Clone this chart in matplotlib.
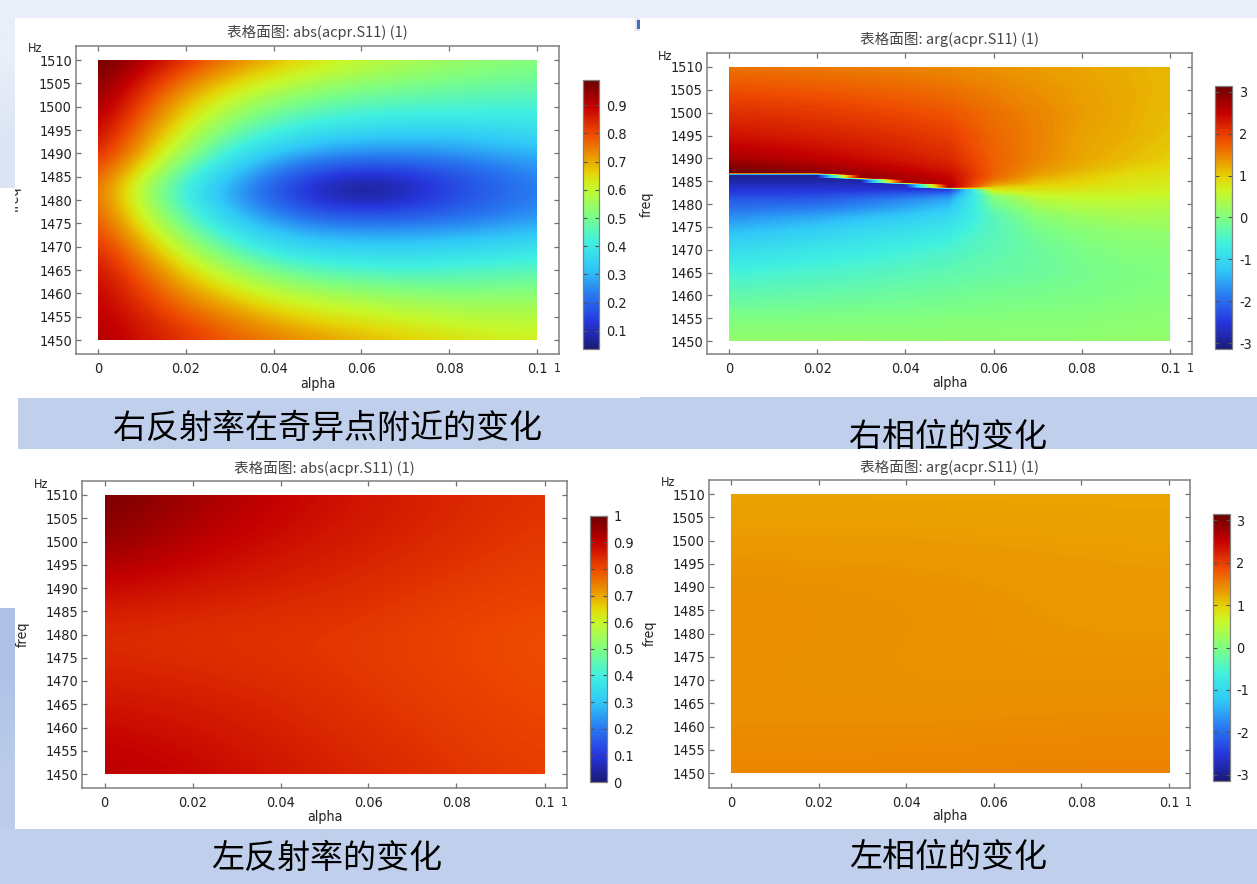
import numpy as np
import matplotlib
matplotlib.use("Agg")
import matplotlib.pyplot as plt
from matplotlib.colors import LinearSegmentedColormap, to_rgb
from matplotlib.patches import Rectangle

W, H = 1257, 884
CJK = ['Noto Sans CJK SC', 'DejaVu Sans']
plt.rcParams['font.stretch'] = 'condensed'

# ---------- data ----------
alpha_ticks = [0, 0.02, 0.04, 0.06, 0.08, 0.1]
alpha_tick_labels = ['0', '0.02', '0.04', '0.06', '0.08', '0.1']
freq_ticks = [1450, 1455, 1460, 1465, 1470, 1475, 1480, 1485, 1490, 1495, 1500, 1505, 1510]

alpha_fine = [0, .01, .02, .03, .04, .05, .06, .07, .08, .09, .10]
alpha_coarse = [0, .02, .04, .06, .08, .10]

freq_a = [1510, 1506, 1502, 1498, 1494, 1490, 1486, 1482, 1478, 1474, 1470, 1466, 1462, 1458, 1454, 1450]
abs_right = [
    [.99, .92, .83, .75, .69, .64, .60, .57, .55, .53, .52],
    [.97, .87, .76, .68, .62, .58, .55, .53, .51, .50, .49],
    [.95, .82, .70, .61, .55, .51, .48, .47, .46, .45, .45],
    [.92, .78, .65, .55, .48, .44, .42, .41, .41, .41, .41],
    [.89, .74, .60, .48, .41, .36, .34, .33, .33, .34, .36],
    [.85, .70, .54, .41, .32, .27, .25, .25, .26, .28, .30],
    [.80, .63, .46, .33, .23, .16, .13, .14, .17, .21, .25],
    [.77, .57, .40, .28, .18, .09, .04, .08, .15, .19, .23],
    [.78, .60, .44, .31, .22, .16, .14, .15, .18, .21, .25],
    [.81, .65, .50, .38, .30, .26, .25, .25, .26, .28, .30],
    [.84, .71, .57, .46, .38, .35, .34, .34, .35, .36, .38],
    [.87, .76, .64, .54, .47, .43, .42, .41, .42, .43, .44],
    [.89, .80, .70, .62, .56, .52, .50, .49, .49, .49, .50],
    [.90, .83, .75, .69, .63, .60, .58, .56, .55, .55, .55],
    [.91, .86, .80, .75, .70, .66, .64, .62, .60, .59, .59],
    [.92, .87, .83, .78, .75, .72, .69, .67, .65, .63, .62],
]

freq_b = [1510, 1505, 1500, 1495, 1490, 1488, 1486.9, 1486.45, 1485.85, 1485.4, 1484.8, 1484.35,
          1483.75, 1483.3, 1482.7, 1482, 1481, 1479, 1477, 1474, 1470, 1465, 1460, 1455, 1450]
arg_right = [
    [1.60, 1.58, 1.55, 1.52, 1.48, 1.44, 1.38, 1.32, 1.26, 1.20, 1.15],
    [1.85, 1.82, 1.78, 1.73, 1.68, 1.62, 1.50, 1.40, 1.30, 1.22, 1.15],
    [2.10, 2.07, 2.02, 1.96, 1.89, 1.80, 1.62, 1.48, 1.33, 1.22, 1.12],
    [2.35, 2.30, 2.24, 2.17, 2.09, 1.98, 1.68, 1.50, 1.28, 1.20, 1.08],
    [2.70, 2.62, 2.52, 2.42, 2.30, 2.15, 1.72, 1.48, 1.25, 1.12, 1.00],
    [2.95, 2.85, 2.73, 2.60, 2.45, 2.28, 1.72, 1.40, 1.18, 1.02, .90],
    [3.10, 3.02, 2.88, 2.72, 2.55, 2.38, 1.72, 1.32, 1.10, .95, .85],
    [-3.0, -3.0, -3.0, 2.80, 2.60, 2.42, 1.70, 1.28, 1.06, .90, .82],
    [-2.95, -2.95, -2.95, 2.85, 2.65, 2.46, 1.66, 1.20, 1.02, .87, .80],
    [-2.9, -2.9, -2.9, -2.9, 2.70, 2.50, 1.58, 1.14, .99, .85, .78],
    [-2.85, -2.85, -2.85, -2.85, 2.75, 2.55, 1.45, 1.07, .95, .83, .75],
    [-2.75, -2.75, -2.75, -2.75, -2.8, 2.60, 1.30, 1.00, .90, .80, .72],
    [-2.65, -2.65, -2.65, -2.65, -2.7, 2.70, 1.00, .92, .86, .77, .70],
    [-2.6, -2.6, -2.6, -2.6, -2.6, -2.6, .85, .85, .82, .75, .68],
    [-2.5, -2.5, -2.5, -2.45, -2.4, -2.3, .55, .72, .73, .70, .64],
    [-2.4, -2.4, -2.35, -2.25, -2.1, -1.9, .10, .62, .66, .66, .60],
    [-2.2, -2.2, -2.15, -2.0, -1.8, -1.55, -.05, .45, .55, .55, .50],
    [-1.95, -1.9, -1.85, -1.7, -1.5, -1.25, -.25, .22, .38, .42, .40],
    [-1.7, -1.6, -1.5, -1.35, -1.2, -1.0, -.4, .05, .20, .30, .30],
    [-1.35, -1.25, -1.15, -1.0, -.9, -.75, -.4, -.1, .05, .12, .15],
    [-.95, -.9, -.8, -.72, -.62, -.52, -.35, -.2, -.05, .03, .05],
    [-.6, -.55, -.5, -.45, -.38, -.32, -.25, -.2, -.1, -.03, .0],
    [-.3, -.28, -.25, -.22, -.18, -.15, -.1, -.08, -.05, .0, .02],
    [-.02, -.02, -.01, .0, .0, .02, .03, .04, .05, .08, .10],
    [.15, .15, .15, .15, .14, .13, .12, .12, .13, .14, .15],
]

freq_c = [1510, 1500, 1490, 1480, 1470, 1460, 1450]
abs_left = [
    [.99, .94, .90, .87, .85, .83],
    [.96, .91, .88, .86, .84, .82],
    [.89, .87, .855, .84, .82, .81],
    [.835, .83, .825, .82, .805, .795],
    [.86, .85, .84, .825, .81, .80],
    [.89, .875, .855, .835, .82, .805],
    [.915, .895, .87, .85, .83, .815],
]
arg_left = [
    [1.26, 1.26, 1.26, 1.26, 1.26, 1.26],
    [1.33, 1.33, 1.33, 1.32, 1.31, 1.30],
    [1.42, 1.40, 1.39, 1.37, 1.35, 1.34],
    [1.42, 1.40, 1.39, 1.37, 1.36, 1.36],
    [1.40, 1.39, 1.38, 1.38, 1.38, 1.39],
    [1.42, 1.42, 1.42, 1.43, 1.44, 1.44],
    [1.48, 1.48, 1.49, 1.50, 1.51, 1.51],
]

cbar_a_ticks = [.1, .2, .3, .4, .5, .6, .7, .8, .9]
cbar_a_labels = ['0.1', '0.2', '0.3', '0.4', '0.5', '0.6', '0.7', '0.8', '0.9']
cbar_c_ticks = [0, .1, .2, .3, .4, .5, .6, .7, .8, .9, 1]
cbar_c_labels = ['0', '0.1', '0.2', '0.3', '0.4', '0.5', '0.6', '0.7', '0.8', '0.9', '1']
cbar_arg_ticks = [-3, -2, -1, 0, 1, 2, 3]
cbar_arg_labels = ['-3', '-2', '-1', '0', '1', '2', '3']

title_abs = '表格面图: abs(acpr.S11) (1)'
title_arg = '表格面图: arg(acpr.S11) (1)'
captions = ['右反射率在奇异点附近的变化', '右相位的变化', '左反射率的变化', '左相位的变化']

# ---------- colours ----------
rainbow = LinearSegmentedColormap.from_list('comsol', [
    (0.00, '#1a1a78'), (0.10, '#2636dc'), (0.20, '#2878f0'), (0.30, '#30c8f8'),
    (0.40, '#40f0e0'), (0.50, '#80ff80'), (0.60, '#c8f828'), (0.65, '#e4d808'),
    (0.70, '#eaa600'), (0.80, '#ee4a00'), (0.90, '#c40000'), (1.00, '#6a0000')], N=512)
TEXT = '#222222'
FRAME = '#808080'

fig = plt.figure(figsize=(W / 100, H / 100), dpi=100, facecolor='white')


def fx(x):
    return x / W


def fy(y):
    return 1 - y / H


def band(x0, y0, x1, y1, color, z=-10):
    fig.add_artist(Rectangle((fx(x0), fy(y1)), (x1 - x0) / W, (y1 - y0) / H,
                             transform=fig.transFigure, fc=color, ec='none', zorder=z))


def shade(x0, y0, x1, y1, top, bottom, z=-6):
    g = fig.add_axes([fx(x0), fy(y1), (x1 - x0) / W, (y1 - y0) / H], zorder=z)
    g.imshow([[to_rgb(top)], [to_rgb(bottom)]], aspect='auto', interpolation='bilinear')
    g.axis('off')


# ---------- slide background ----------
band(0, 0, W, 18, '#E9EEF8')
shade(0, 18, 15, 188, '#E9EEF8', '#DCE4F4')
band(18, 398, 640, 449, '#C0CFEB')
band(640, 397, W, 449, '#C0CFEB')
band(0, 829, W, H, '#C0CFEB')

for txt, cx, cy in zip(captions, [327, 948, 327, 948], [428, 437, 858, 858]):
    fig.text(fx(cx), fy(cy), txt, ha='center', va='center', fontsize=23.8,
             family=CJK, color='black', zorder=-8)
band(0, 449, W, 829, 'white', z=-7)
shade(0, 608, 15, 829, '#AEC1E6', '#BCCCEA')
band(635, 18, 640, 31, '#E4E8EE', z=-5)
band(637, 20, 640, 29, '#3E6FC0', z=-4)


def panel(frame, x_data, y_data, title, hz, one, xlab_y, ylab_x, ylab_y):
    x0, x1, y0, y1 = frame
    ax = fig.add_axes([fx(x0), fy(y1), (x1 - x0) / W, (y1 - y0) / H])
    per_x = 0.1 / (x_data[1] - x_data[0])
    per_y = 60 / (y_data[1] - y_data[0])
    ax.set_xlim(-(x_data[0] - x0) * per_x, 0.1 + (x1 - x_data[1]) * per_x)
    ax.set_ylim(1450 - (y1 - y_data[1]) * per_y, 1510 + (y_data[0] - y0) * per_y)
    ax.set_xticks(alpha_ticks, alpha_tick_labels)
    ax.set_yticks(freq_ticks, [str(f) for f in freq_ticks])
    ax.tick_params(direction='in', top=True, right=True, length=3.5, width=0.9, color='#707070',
                   labelsize=10.4, labelcolor=TEXT, pad=3)
    ax.tick_params(axis='x', pad=6)
    for s in ax.spines.values():
        s.set_color(FRAME)
        s.set_linewidth(1.1)
    ax.set_title(title, family=CJK, fontsize=10.5, color='#444444', pad=6)
    ax.set_xlabel('alpha', fontsize=10.2, color=TEXT)
    ax.set_ylabel('freq', fontsize=10.2, color=TEXT)
    ax.xaxis.set_label_coords((x0 + x1) / 2 / W, fy(xlab_y), transform=fig.transFigure)
    ax.xaxis.label.set_va('center')
    ax.yaxis.set_label_coords(fx(ylab_x), fy(ylab_y), transform=fig.transFigure)
    ax.yaxis.label.set_va('center')
    fig.text(fx(hz[0]), fy(hz[1]), 'Hz', fontsize=9, color=TEXT, ha='center', va='center')
    fig.text(fx(one[0]), fy(one[1]), '1', fontsize=8.5, color=TEXT, ha='center', va='center')
    return ax


def smooth_field(ax, values, alphas, freqs, vmin, vmax):
    da, df = alphas[1] - alphas[0], freqs[0] - freqs[1]
    im = ax.imshow(values, cmap=rainbow, vmin=vmin, vmax=vmax, aspect='auto',
                   interpolation='bicubic', interpolation_stage='data', origin='upper',
                   extent=[alphas[0] - da / 2, alphas[-1] + da / 2,
                           freqs[-1] - df / 2, freqs[0] + df / 2])
    im.set_clip_path(Rectangle((0, 1450), 0.1, 60, transform=ax.transData))
    return im


def colour_bar(mappable, rect, ticks, labels):
    x0, x1, y0, y1 = rect
    cax = fig.add_axes([fx(x0), fy(y1), (x1 - x0) / W, (y1 - y0) / H])
    cb = fig.colorbar(mappable, cax=cax)
    cb.set_ticks(ticks, labels=labels)
    cb.minorticks_off()
    cax.tick_params(direction='in', left=True, right=True, length=2.8, width=0.8, color='#505050',
                    labelsize=10.4, labelcolor=TEXT, pad=5)
    cb.outline.set_edgecolor(FRAME)
    cb.outline.set_linewidth(0.9)
    return cb


# top right: phase with the stepped branch cut
ax_b = panel((707, 1192, 52.7, 354), (729, 1170), (67, 341), title_arg,
             (665.5, 56), (1190, 368), 383, 647, 204)
cf = ax_b.contourf(alpha_fine, freq_b, np.array(arg_right), levels=np.linspace(-3.1416, 3.1416, 257),
                   cmap=rainbow, vmin=-3.1416, vmax=3.1416, antialiased=False)
colour_bar(cf, (1215, 1232, 86, 349), cbar_arg_ticks, cbar_arg_labels)

# top left
ax_a = panel((76, 559, 45.7, 354), (98, 537), (60, 340), title_abs,
             (35, 48), (557, 368), 384, 15, 199)
im = smooth_field(ax_a, abs_right, alpha_fine, freq_a, 0.036, 0.989)
colour_bar(im, (582.5, 599, 80, 349), cbar_a_ticks, cbar_a_labels)
band(0, 188, 15, 398, 'white', z=1)

# bottom left
ax_c = panel((82.4, 566.5, 481, 787.7), (104.5, 544.5), (495, 774), title_abs,
             (41, 484), (564.5, 802), 817, 22.5, 634)
im = smooth_field(ax_c, abs_left, alpha_coarse, freq_c, 0, 1)
colour_bar(im, (589.5, 606.5, 515.7, 782), cbar_c_ticks, cbar_c_labels)

# bottom right
ax_d = panel((709, 1190, 480, 787.5), (731, 1169), (494, 773), title_arg,
             (668, 483), (1188, 802), 816, 650, 633)
im = smooth_field(ax_d, arg_left, alpha_coarse, freq_c, -3.1416, 3.1416)
colour_bar(im, (1213, 1229.5, 514, 781), cbar_arg_ticks, cbar_arg_labels)

fig.savefig('out.png', dpi=100, facecolor='white')
